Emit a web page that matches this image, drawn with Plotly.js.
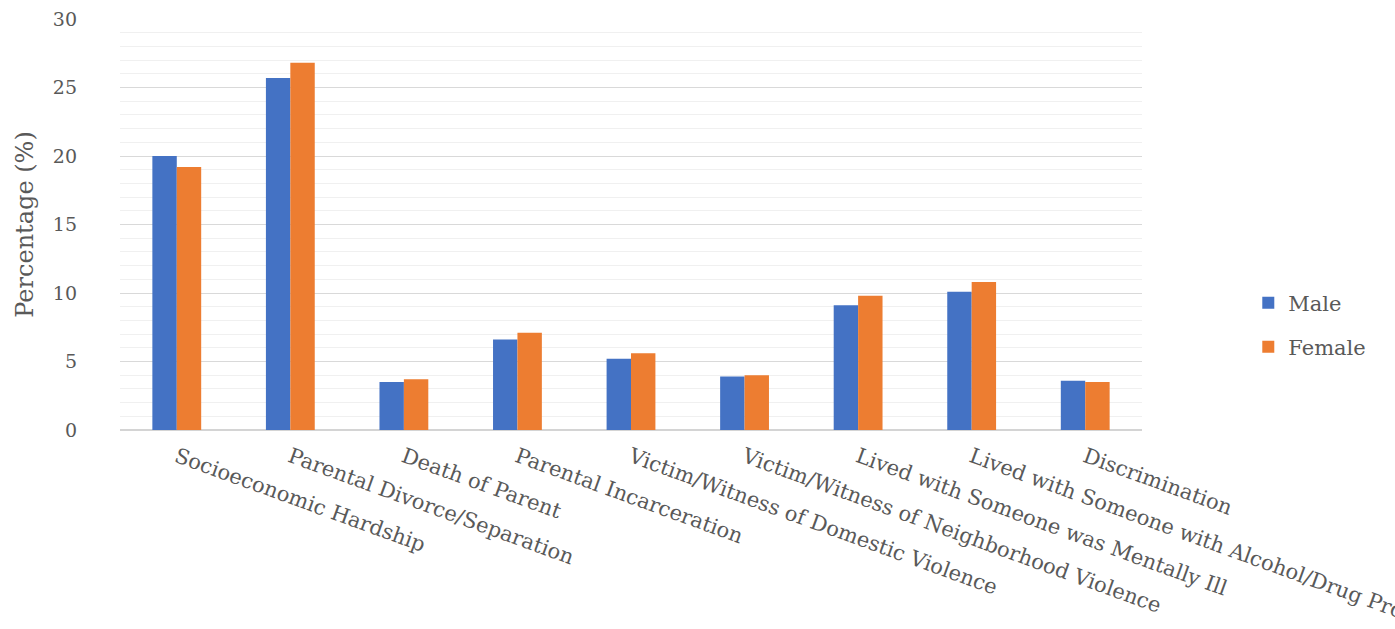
<!DOCTYPE html>
<html>
<head>
<meta charset="utf-8">
<script src="https://cdn.plot.ly/plotly-3.0.1.min.js"></script>
<style>
  html, body { margin: 0; padding: 0; background: #ffffff; }
  #chart { width: 1395px; height: 629px; }
</style>
</head>
<body>
<div id="chart"></div>
<script>
// Adverse childhood experiences by sex (percentage)
const categories = [
  "Socioeconomic Hardship",
  "Parental Divorce/Separation",
  "Death of Parent",
  "Parental Incarceration",
  "Victim/Witness of Domestic Violence",
  "Victim/Witness of Neighborhood Violence",
  "Lived with Someone was Mentally Ill",
  "Lived with Someone with Alcohol/Drug Problem",
  "Discrimination"
];
const maleValues   = [20.0, 25.7, 3.5, 6.6, 5.2, 3.9, 9.1, 10.1, 3.6];
const femaleValues = [19.2, 26.8, 3.7, 7.1, 5.6, 4.0, 9.8, 10.8, 3.5];
const seriesNames  = ["Male", "Female"];
const yTicks       = [0, 5, 10, 15, 20, 25, 30];

const FONT = "Georgia, 'DejaVu Serif', serif";
const TEXT = "#595959";

const traces = [
  {
    type: "bar", name: seriesNames[0], x: categories, y: maleValues,
    marker: { color: "#4472C4" }, legend: "legend", showlegend: true
  },
  {
    type: "bar", name: seriesNames[1], x: categories, y: femaleValues,
    marker: { color: "#ED7D31" }, legend: "legend2", showlegend: true
  }
];

const legendBase = {
  xref: "paper", yref: "paper", xanchor: "left", yanchor: "middle",
  bgcolor: "rgba(0,0,0,0)", borderwidth: 0,
  font: { family: FONT, size: 21, color: TEXT }
};

const layout = {
  width: 1395, height: 629,
  paper_bgcolor: "#ffffff", plot_bgcolor: "#ffffff",
  margin: { l: 120, r: 253, t: 19, b: 199, autoexpand: false },
  barmode: "group", bargap: 0.57, bargroupgap: 0,
  showlegend: true,
  font: { family: FONT, color: TEXT },
  xaxis: {
    type: "category", tickangle: 20, showgrid: false, showline: false,
    zeroline: false, ticks: "", automargin: false, ticklabelstandoff: 10,
    tickfont: { family: FONT, size: 21, color: TEXT }
  },
  yaxis: {
    range: [0, 30], tickvals: yTicks, ticktext: yTicks.map(String),
    showgrid: true, gridcolor: "#d9d9d9", gridwidth: 1,
    minor: { dtick: 1, showgrid: true, gridcolor: "#f0f0f0", gridwidth: 1 },
    zeroline: true, zerolinecolor: "#d4d4d4", zerolinewidth: 1.5,
    showline: false, ticks: "", ticklabelstandoff: 42, automargin: false,
    tickfont: { family: FONT, size: 19, color: TEXT },
    title: { text: "Percentage (%)", font: { family: FONT, size: 24, color: TEXT }, standoff: 12 }
  },
  legend:  Object.assign({ x: 1.104, y: 0.309 }, legendBase),
  legend2: Object.assign({ x: 1.104, y: 0.202 }, legendBase)
};

Plotly.newPlot("chart", traces, layout, { displayModeBar: false, staticPlot: true });
</script>
</body>
</html>
